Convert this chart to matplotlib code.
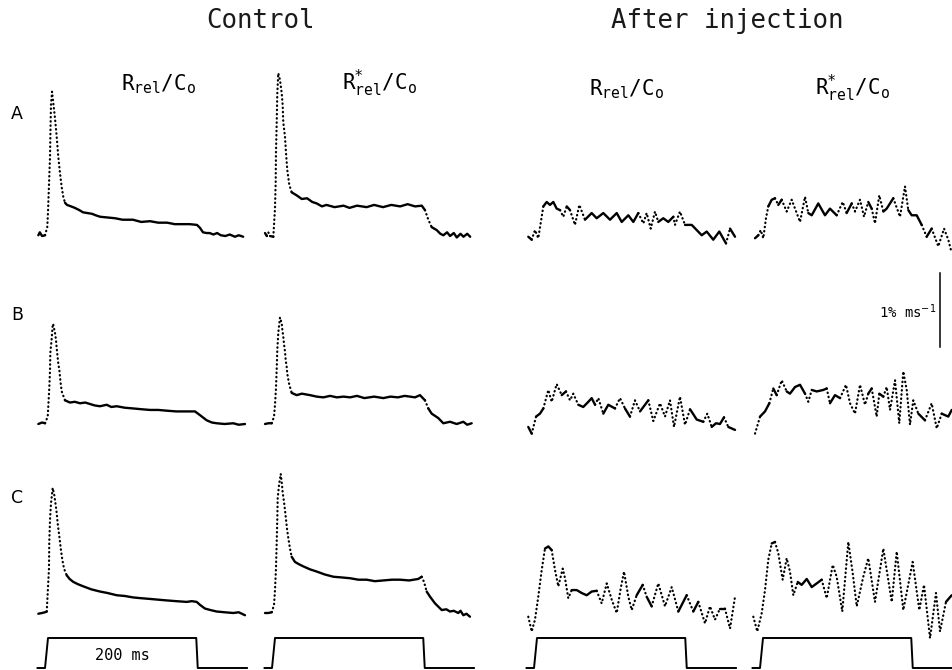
import numpy as np
import matplotlib.pyplot as plt

# 1. data: time in ms (0 = start of the 200 ms pulse), signal in % ms^-1

# row A
t_a_ctrl = [-13, -11, -8, -4, -1, 0, 1.3, 2.7, 3.4, 4, 5.4, 7.1, 9.4, 11.7, 13.8, 16.1, 18.4, 20.5, 22.8, 25.5,
            31, 36, 42, 47, 53, 59, 64, 70, 80, 90, 100, 114, 125, 137, 148, 160, 170, 177, 190, 200,
            204, 208, 213, 217, 222, 227, 232, 238, 244, 251, 256, 262]
v_a_ctrl = [0.01, 0.05, 0, 0.01, 0.12, 0.32, 0.69, 1.07, 1.47, 1.77, 1.95, 1.80, 1.59, 1.34, 1.07, 0.85, 0.66, 0.53, 0.45, 0.42,
            0.40, 0.38, 0.35, 0.32, 0.31, 0.30, 0.28, 0.26, 0.25, 0.24, 0.22, 0.22, 0.19, 0.20, 0.18, 0.18, 0.16, 0.16, 0.16, 0.15,
            0.11, 0.05, 0.04, 0.04, 0.02, 0.04, 0.01, 0.0, 0.02, -0.01, 0.01, -0.01]

t_a_star = [-13.4, -11, -9, -6.7, -2.3, -1.3, 0, 0.9, 1.3, 2.3, 3.1, 4.4, 6.7, 9.0, 10.3, 11.1, 13.4, 14.8, 16.5, 19.2,
            22.4, 29, 36, 43, 50, 56, 63, 69, 80, 92, 100, 110, 123, 133, 145, 156, 168, 178, 188, 197,
            201.3, 205.8, 210.3, 217, 222, 226, 231, 235, 240, 244, 249, 253, 258, 262]
v_a_star = [0.04, 0.0, 0.05, 0.0, -0.01, 0.15, 0.38, 0.72, 1.12, 1.54, 1.93, 2.20, 2.11, 1.93, 1.77, 1.54, 1.34, 1.12, 0.89, 0.69,
            0.59, 0.55, 0.50, 0.51, 0.46, 0.44, 0.40, 0.42, 0.39, 0.41, 0.38, 0.41, 0.39, 0.42, 0.39, 0.42, 0.40, 0.43, 0.40, 0.41,
            0.35, 0.22, 0.12, 0.08, 0.03, 0.01, 0.05, 0.0, 0.04, -0.02, 0.03, -0.01, 0.03, -0.01]

t_a_inj = [-11.7, -7.1, -2.7, 1.7, 6.3, 8.5, 13.0, 17.4, 21.9, 26.4, 30.9, 35.3, 39.9, 44.3, 51.0, 56.8, 64.4, 73.4, 80.1, 89.0,
           98.0, 107.0, 113.7, 122.6, 129.3, 136.0, 142.7, 147.2, 152.6, 158.4, 162.8, 169.5, 176.2, 183.0, 185.2, 191.9, 198.7,
           207.7, 214.4, 221.1, 227.8, 236.6, 244.7, 253.7, 259.1, 265.8]
v_a_inj = [-0.01, -0.05, 0.08, -0.03, 0.26, 0.40, 0.46, 0.42, 0.46, 0.37, 0.35, 0.26, 0.40, 0.35, 0.15, 0.42, 0.22, 0.31, 0.24, 0.31,
           0.22, 0.31, 0.19, 0.28, 0.19, 0.31, 0.17, 0.31, 0.10, 0.33, 0.19, 0.24, 0.19, 0.26, 0.15, 0.33, 0.15,
           0.15, 0.08, 0.01, 0.06, -0.05, 0.06, -0.10, 0.10, -0.01]

t_a_inj_star = [-10.7, -6.3, -3.1, 0.4, 4.0, 7.1, 11.7, 16.1, 20.5, 25.1, 31.8, 38.5, 43.0, 49.7, 56.4, 60.8, 65.4, 74.2, 83.2, 89.9,
                98.9, 107.0, 112.3, 119.1, 123.5, 130.2, 135.6, 141.3, 145.9, 150.3, 156.1, 161.5, 166.0, 174.9, 183.9, 190.6,
                195.0, 199.6, 206.3, 213.0, 219.7, 226.4, 235.3, 243.0, 248.7, 253.3]
v_a_inj_star = [-0.03, 0.01, 0.08, -0.03, 0.24, 0.40, 0.49, 0.51, 0.42, 0.49, 0.33, 0.49, 0.37, 0.19, 0.53, 0.31, 0.28, 0.44, 0.28, 0.37,
                0.28, 0.46, 0.31, 0.44, 0.33, 0.49, 0.26, 0.46, 0.37, 0.17, 0.55, 0.33, 0.37, 0.51, 0.26, 0.67,
                0.35, 0.28, 0.28, 0.15, -0.01, 0.10, -0.14, 0.10, -0.05, -0.23]

# row B
t_b_ctrl = [-13, -8, -4, -0.4, 0.4, 1.7, 2.7, 3.1, 5.0, 6.3, 7.1, 9.4, 10.7, 11.7, 13.8, 15.2, 17.0, 18.4, 22.8, 29.5,
            36, 43, 50, 56.4, 63, 69.8, 78.8, 85, 92.2, 103, 114.5, 125, 136.9, 148, 159.3, 172, 186.2, 197.3, 204.0, 213.0,
            220, 226.4, 237, 248.7, 256, 264.4]
v_b_ctrl = [0.0, 0.02, 0.01, 0.10, 0.24, 0.48, 0.73, 0.96, 1.16, 1.34, 1.34, 1.23, 1.14, 1.02, 0.82, 0.73, 0.55, 0.44, 0.32, 0.29,
            0.30, 0.28, 0.29, 0.27, 0.25, 0.24, 0.26, 0.23, 0.24, 0.22, 0.21, 0.20, 0.19, 0.19, 0.18, 0.17, 0.17, 0.17, 0.12, 0.05,
            0.02, 0.01, 0.0, 0.01, -0.01, 0.0]

t_b_star = [-13.4, -9, -4.4, -1.3, 0, 1.3, 2.3, 3.1, 4.4, 5.8, 6.7, 9.0, 9.8, 11.1, 12.1, 13.4, 14.4, 15.7, 16.5, 17.9,
            19.2, 22.4, 29.1, 36, 47.0, 56, 64.8, 74, 83, 92, 100.7, 110, 120, 133, 145.4, 155, 165, 174, 181.2, 188,
            194.6, 201.3, 205.8, 210.3, 219.2, 225.9, 235, 243.9, 252.8, 258, 264.0]
v_b_star = [0.0, 0.01, 0.01, 0.10, 0.26, 0.48, 0.75, 1.00, 1.23, 1.36, 1.44, 1.36, 1.28, 1.18, 1.08, 0.98, 0.86, 0.77, 0.68, 0.60,
            0.53, 0.42, 0.39, 0.41, 0.39, 0.37, 0.36, 0.38, 0.36, 0.37, 0.36, 0.38, 0.35, 0.37, 0.35, 0.37, 0.36, 0.38, 0.37, 0.36,
            0.39, 0.32, 0.21, 0.14, 0.08, 0.01, 0.03, 0.0, 0.03, -0.01, 0.01]

t_b_inj = [-11.7, -7.1, -1.3, 4.0, 8.5, 15.2, 19.7, 26.4, 33.2, 38.9, 44.3, 48.7, 55.4, 62.1, 68.9, 73.4, 77.9, 82.3, 89.0, 95.7,
           104.7, 111.4, 118.1, 124.8, 131.5, 138.3, 149.4, 156.1, 165.1, 171.8, 178.5, 183.9, 191.9, 198.7, 205.4,
           214.4, 223.2, 228.6, 234.5, 240.3, 245.6, 251.0, 256.8, 265.8]
v_b_inj = [-0.04, -0.13, 0.10, 0.14, 0.21, 0.46, 0.30, 0.54, 0.39, 0.44, 0.32, 0.41, 0.26, 0.23, 0.30, 0.35, 0.26, 0.35, 0.14, 0.26,
           0.21, 0.35, 0.21, 0.10, 0.32, 0.17, 0.32, 0.04, 0.28, 0.10, 0.32, -0.04, 0.37, -0.01, 0.20,
           0.06, 0.03, 0.14, -0.04, 0.01, 0.0, 0.09, -0.04, -0.08]

t_b_inj_star = [-10.7, -4.0, 2.7, 8.5, 13.8, 18.4, 25.1, 31.8, 36.2, 43.0, 49.7, 56.4, 60.8, 65.4, 72.1, 80.9, 85.5, 89.9, 96.6, 103.4,
                111.4, 116.8, 123.5, 130.2, 136.9, 141.3, 145.9, 152.6, 156.1, 161.5, 166.0, 170.5, 177.2, 182.9, 188.3,
                192.9, 197.3, 201.7, 208.5, 217.4, 226.4, 233.2, 239.9, 248.7, 253.3]
v_b_inj_star = [-0.13, 0.10, 0.17, 0.28, 0.48, 0.39, 0.59, 0.44, 0.41, 0.50, 0.53, 0.41, 0.30, 0.46, 0.44, 0.46, 0.48, 0.28, 0.39, 0.35,
                0.53, 0.28, 0.14, 0.53, 0.26, 0.41, 0.48, 0.10, 0.41, 0.37, 0.50, 0.19, 0.59, 0.01, 0.71,
                0.46, -0.01, 0.32, 0.14, 0.05, 0.28, -0.06, 0.14, 0.10, 0.19]

# row C
t_c_ctrl = [-13, -8, -4, -1.7, -0.4, 1.3, 1.7, 2.7, 4.0, 6.3, 8.5, 10.3, 11.7, 13.0, 14.4, 16.1, 17.4, 19.2, 21.5, 25.1,
            29, 34, 40, 47.4, 58, 69.8, 80, 92.2, 103, 114.5, 125, 136.9, 148, 159.3, 172, 186.2, 193, 199.6, 204.0, 210.7,
            218, 226.4, 237, 248.7, 256, 264.4]
v_c_ctrl = [-0.01, 0.0, 0.01, 0.02, 0.27, 0.60, 0.96, 1.26, 1.48, 1.69, 1.59, 1.46, 1.35, 1.21, 1.10, 0.96, 0.85, 0.72, 0.60, 0.51,
            0.46, 0.42, 0.39, 0.36, 0.32, 0.29, 0.27, 0.24, 0.23, 0.21, 0.20, 0.19, 0.18, 0.17, 0.16, 0.15, 0.16, 0.15, 0.11, 0.06,
            0.04, 0.02, 0.01, 0.0, 0.01, -0.03]

t_c_star = [-13.4, -9, -4.4, -1.3, 0, 1.3, 2.3, 3.1, 3.6, 5.4, 7.7, 9.4, 10.3, 12.1, 13.4, 14.8, 16.1, 17.9, 20.1, 22.4,
            26.8, 32, 38.0, 47, 56.0, 67, 78.3, 90, 100.7, 112, 123.1, 134, 145.4, 157, 167.8, 180, 192.3, 196.9, 200.0, 203.6,
            208.1, 214.8, 223.8, 230, 234.9, 240, 246.0, 249, 252.8, 257, 261.7]
v_c_star = [0.0, 0.0, 0.01, 0.11, 0.31, 0.60, 0.96, 1.28, 1.55, 1.73, 1.88, 1.73, 1.63, 1.50, 1.39, 1.26, 1.14, 1.01, 0.87, 0.76,
            0.69, 0.66, 0.63, 0.59, 0.56, 0.52, 0.49, 0.48, 0.47, 0.45, 0.45, 0.43, 0.44, 0.45, 0.45, 0.44, 0.46, 0.49, 0.42, 0.29,
            0.22, 0.13, 0.04, 0.05, 0.02, 0.03, 0.0, 0.03, -0.03, -0.01, -0.05]

t_c_inj = [-11.7, -7.1, -2.7, 1.7, 6.3, 10.7, 15.2, 19.7, 24.2, 28.6, 34.5, 37.6, 42.0, 46.6, 53.3, 60.0, 66.7, 73.4, 80.1, 86.8,
           93.6, 100.3, 107.0, 112.3, 116.8, 122.6, 127.1, 133.8, 141.9, 147.2, 153.9, 162.8, 171.8, 180.8, 189.7,
           200.9, 209.8, 216.5, 225.5, 232.2, 238.9, 245.6, 252.3, 259.1, 265.8]
v_c_inj = [-0.05, -0.25, -0.09, 0.22, 0.58, 0.87, 0.90, 0.85, 0.58, 0.36, 0.60, 0.47, 0.20, 0.31, 0.31, 0.27, 0.24, 0.29, 0.30, 0.13,
           0.40, 0.18, 0.0, 0.33, 0.56, 0.22, 0.04, 0.24, 0.38, 0.22, 0.09, 0.40, 0.09, 0.35, 0.02,
           0.24, 0.02, 0.15, -0.14, 0.09, -0.09, 0.06, 0.06, -0.21, 0.22]

t_c_inj_star = [-13.0, -7.7, -1.7, 2.7, 7.1, 11.7, 16.1, 20.5, 26.4, 31.8, 36.2, 40.7, 46.6, 51.9, 58.7, 65.4, 78.8, 85.5, 93.6, 98.9,
                106.4, 114.5, 120.4, 125.8, 134.6, 141.3, 150.3, 161.5, 172.8, 179.5, 188.3, 200.9, 209.8, 216.1, 224.2,
                232.2, 237.6, 245.6, 253.3]
v_c_inj_star = [-0.05, -0.25, 0.0, 0.31, 0.72, 0.94, 0.96, 0.81, 0.45, 0.74, 0.56, 0.24, 0.42, 0.38, 0.46, 0.35, 0.45, 0.20, 0.65, 0.49,
                0.02, 0.96, 0.54, 0.09, 0.49, 0.74, 0.15, 0.87, 0.15, 0.83, 0.04, 0.69, 0.04, 0.38, -0.34,
                0.27, -0.25, 0.15, 0.24]

# stimulus (depolarising pulse), 0 = holding, 1 = test potential
stim_t = [-14, -4, 0, 199, 201, 267]
stim_v = [0, 0, 1, 1, 0, 0]

col_titles = ["Control", "After injection"]
row_labels = ["A", "B", "C"]
label_rel = r"$\mathtt{R}_{\mathtt{rel}}\mathtt{/C}_{\mathtt{o}}$"
label_rel_star = r"$\mathtt{R}^{*}_{\mathtt{rel}}\mathtt{/C}_{\mathtt{o}}$"

traces = [
    [(t_a_ctrl, v_a_ctrl), (t_a_star, v_a_star), (t_a_inj, v_a_inj), (t_a_inj_star, v_a_inj_star)],
    [(t_b_ctrl, v_b_ctrl), (t_b_star, v_b_star), (t_b_inj, v_b_inj), (t_b_inj_star, v_b_inj_star)],
    [(t_c_ctrl, v_c_ctrl), (t_c_star, v_c_star), (t_c_inj, v_c_inj), (t_c_inj_star, v_c_inj_star)],
]

# 2. layout (pixels of the 952 x 670 page)
W, H = 952, 670
PX_PER_MS = 0.745
PX_PER_UNIT = 74          # 1 % ms^-1
T_LIM = (-16, 272)
V_LIM = (-0.5, 2.35)
COL_X0 = [48, 275, 537, 763]      # x of pulse onset in each column
ROW_Y0 = [236, 424, 613]          # y of the resting level in each row
STIM_Y0, STIM_PX = 668, 30

fig = plt.figure(figsize=(W / 100, H / 100), dpi=100)


def panel_axes(x0, y0, ylim, px_per_unit):
    left = x0 + T_LIM[0] * PX_PER_MS
    width = (T_LIM[1] - T_LIM[0]) * PX_PER_MS
    top = y0 - ylim[1] * px_per_unit
    height = (ylim[1] - ylim[0]) * px_per_unit
    ax = fig.add_axes([left / W, 1 - (top + height) / H, width / W, height / H])
    ax.set_xlim(*T_LIM)
    ax.set_ylim(*ylim)
    ax.axis("off")
    return ax


def draw_trace(ax, t, v):
    # plotter look: fast changes come out as separate dots, slow ones merge into a line
    t = np.asarray(t, float)
    v = np.asarray(v, float)
    steep = np.abs(np.diff(v) * PX_PER_UNIT) > 2.0 * np.abs(np.diff(t) * PX_PER_MS)
    start = 0
    for i in range(1, len(steep) + 1):
        if i == len(steep) or steep[i] != steep[start]:
            seg = slice(start, i + 1)
            if steep[start]:
                ax.plot(t[seg], v[seg], color="black", lw=1.6,
                        linestyle=(0, (0.2, 1.7)), dash_capstyle="round")
            else:
                ax.plot(t[seg], v[seg], color="black", lw=1.7,
                        solid_capstyle="round", solid_joinstyle="round")
            start = i


# 3. traces
for r, row in enumerate(traces):
    for c, (t, v) in enumerate(row):
        ax = panel_axes(COL_X0[c], ROW_Y0[r], V_LIM, PX_PER_UNIT)
        draw_trace(ax, t, v)
        if r == 1 and c == 3:
            # calibration bar 1 % ms^-1
            ax.plot([237.6, 237.6], [1.04, 2.04], color="black", lw=1.1)
            ax.text(232, 1.52, "1% ms$^{-1}$", ha="right", va="center",
                    fontsize=10, family="DejaVu Sans Mono")

# 4. stimulus pulses
for c in range(4):
    ax = panel_axes(COL_X0[c], STIM_Y0, (-0.1, 1.3), STIM_PX)
    ax.plot(stim_t, stim_v, color="black", lw=1.4)
    if c == 0:
        ax.text(100, 0.4, "200 ms", ha="center", va="center",
                fontsize=11, family="DejaVu Sans Mono")

# 5. headings and labels
fig.text(260 / W, 1 - 28 / H, col_titles[0], ha="center", va="baseline",
         fontsize=18.5, family="DejaVu Sans Mono", color="#1a1a1a")
fig.text(727 / W, 1 - 28 / H, col_titles[1], ha="center", va="baseline",
         fontsize=18.5, family="DejaVu Sans Mono", color="#1a1a1a")

for x, y, lab in [(158, 90, label_rel), (379, 90, label_rel_star),
                  (626, 95, label_rel), (852, 95, label_rel_star)]:
    fig.text(x / W, 1 - y / H, lab, ha="center", va="baseline", fontsize=15)

for y, lab in zip([114, 315, 498], row_labels):
    fig.text(17 / W, 1 - y / H, lab, ha="center", va="center", fontsize=12.5)

fig.savefig("out.png", dpi=100)
